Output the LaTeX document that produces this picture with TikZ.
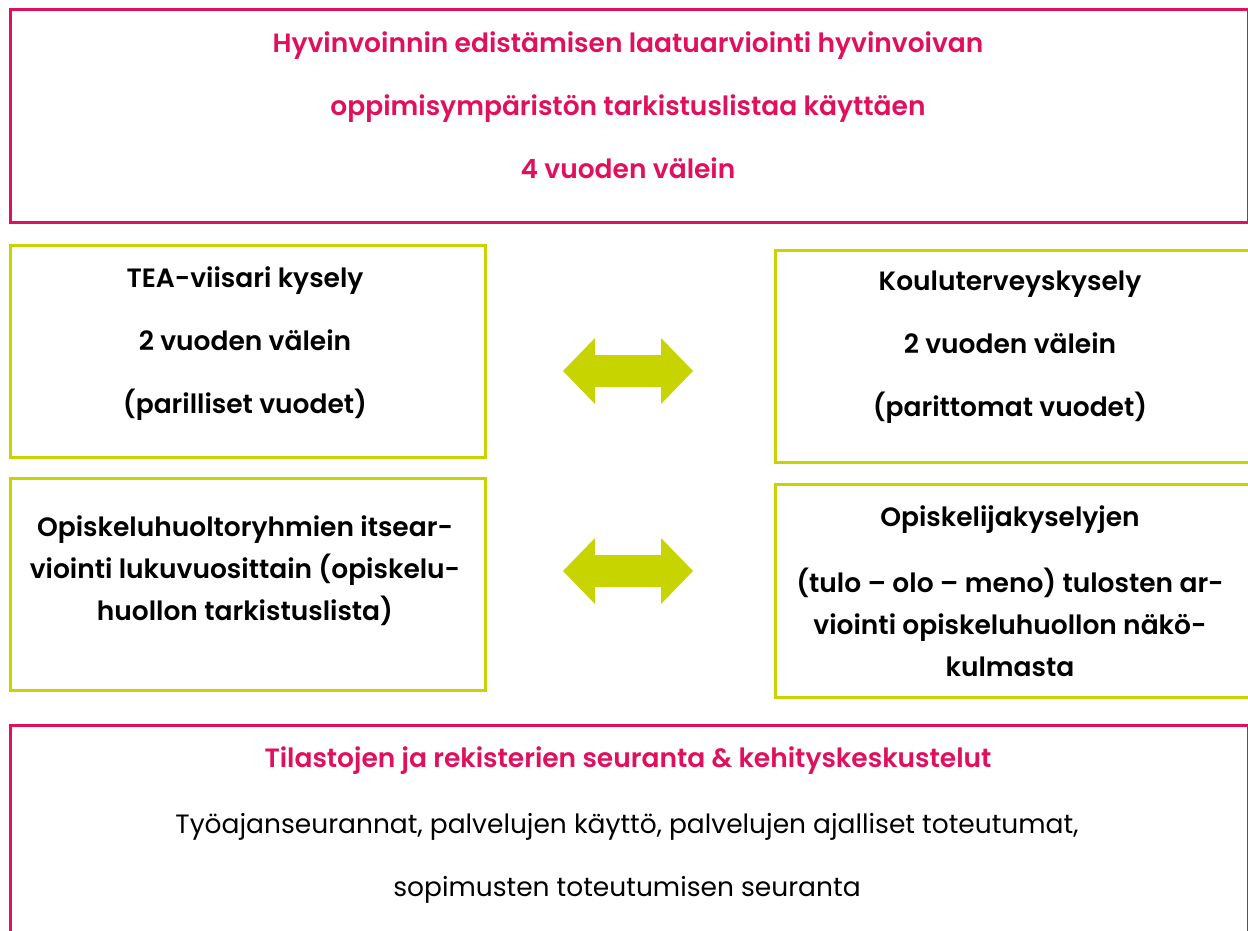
\documentclass[tikz,border=0pt]{standalone}
\usepackage{fontspec}
\setmainfont{Poppins}[BoldFont={Poppins SemiBold}]
\definecolor{pinkc}{HTML}{E0105E}
\definecolor{greenc}{HTML}{C8D400}
\begin{document}
\begin{tikzpicture}[x=1pt,y=-1pt,
  pinkbox/.style={draw=pinkc, line width=3pt, rectangle, anchor=north west, inner sep=0pt},
  greenbox/.style={draw=greenc, line width=3pt, rectangle, anchor=north west, inner sep=0pt, minimum width=475pt, minimum height=212pt},
  boldtxt/.style={align=center, font=\bfseries\fontsize{26.5}{63}\selectfont},
  boldtight/.style={align=center, font=\bfseries\fontsize{26.5}{42}\selectfont},
  regtxt/.style={align=center, font=\fontsize{26.5}{63}\selectfont},
  dblarrow/.style={fill=greenc, draw=none}]
\useasboundingbox (0,0) rectangle (1248,931);
\clip (0,0) rectangle (1248,931);
\fill[white] (0,0) rectangle (1248,931);
% boxes
\node[pinkbox, minimum width=1238pt, minimum height=212pt] (top) at (8.5,8.5) {};
\node[greenbox] (l1) at (8.5,243.5) {};
\node[greenbox] (r1) at (773.5,248.5) {};
\node[greenbox] (l2) at (8.5,476.5) {};
\node[greenbox, minimum height=213pt] (r2) at (773.5,482.5) {};
\node[pinkbox, minimum width=1238pt, minimum height=260pt] (bot) at (8.5,723.5) {};
% texts
\node[boldtxt, text=pinkc] (toptext) at (628,105) {Hyvinvoinnin edistämisen laatuarviointi hyvinvoivan\\oppimisympäristön tarkistuslistaa käyttäen\\4 vuoden välein};
\node[boldtxt] (l1text) at (245,344) {TEA-viisari kysely\\2 vuoden välein\\(parilliset vuodet)};
\node[boldtxt] (r1text) at (1010,347) {Kouluterveyskysely\\2 vuoden välein\\(parittomat vuodet)};
\node[boldtight] (l2text) at (245,571) {Opiskeluhuoltoryhmien itsear-\\viointi lukuvuosittain (opiskelu-\\huollon tarkistuslista)};
\node[boldtight] (r2title) at (1010,520) {Opiskelijakyselyjen};
\node[boldtight] (r2text) at (1010,622) {(tulo – olo – meno) tulosten ar-\\viointi opiskeluhuollon näkö-\\kulmasta};
\node[boldtxt, text=pinkc] (bottitle) at (628,761) {Tilastojen ja rekisterien seuranta \& kehityskeskustelut};
\node[regtxt] (bottext) at (627,858) {Työajanseurannat, palvelujen käyttö, palvelujen ajalliset toteutumat,\\sopimusten toteutumisen seuranta};
% double arrows
\coordinate (a1) at (628,371);
\coordinate (a2) at (628,571);
\foreach \c in {a1,a2}{
  \fill[dblarrow] ([xshift=-65pt]\c) -- ([xshift=-33pt,yshift=33pt]\c) -- ([xshift=-33pt,yshift=16pt]\c)
    -- ([xshift=33pt,yshift=16pt]\c) -- ([xshift=33pt,yshift=33pt]\c) -- ([xshift=65pt]\c)
    -- ([xshift=33pt,yshift=-33pt]\c) -- ([xshift=33pt,yshift=-16pt]\c) -- ([xshift=-33pt,yshift=-16pt]\c)
    -- ([xshift=-33pt,yshift=-33pt]\c) -- cycle;
}
\end{tikzpicture}
\end{document}
